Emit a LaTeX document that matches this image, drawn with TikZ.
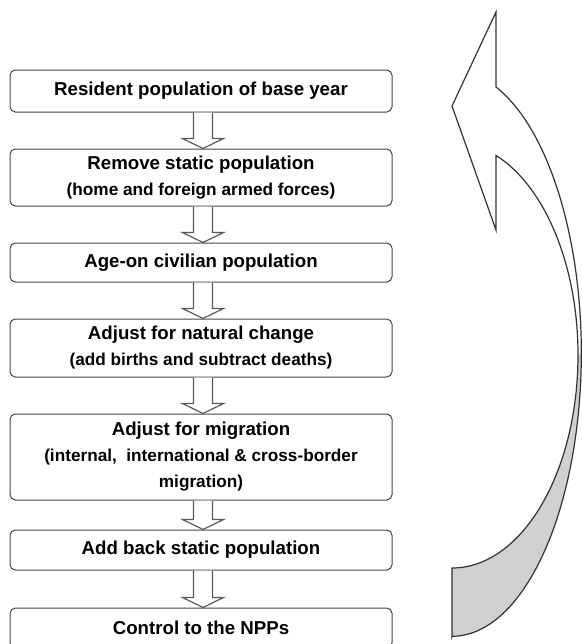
\documentclass[tikz,border=0pt]{standalone}
\usepackage{fontspec}
\setmainfont{Liberation Sans}
\usetikzlibrary{calc}

\tikzset{every picture/.style={line width=0.75pt}}
\tikzset{
  stepbox/.style={draw={rgb, 255:red, 70; green, 70; blue, 70 }, fill=white, rounded corners=4pt, minimum width=286.5pt, inner sep=0pt, align=center, font=\bfseries\fontsize{14}{19.5}\selectfont},
  blockarr/.style={draw={rgb, 255:red, 90; green, 90; blue, 90 }, fill=white, line width=0.9pt},
  bigarr/.style={draw={rgb, 255:red, 50; green, 50; blue, 50 }, line width=0.9pt},
}
\newcommand{\notefont}{\fontsize{12.9}{18}\selectfont}
\newcommand{\downarr}[2]{%
\draw[blockarr] ($(#1.south)+(-7.5,0)$) -- ($(#2.north)+(-7.5,-10)$) -- ($(#2.north)+(-18.5,-10)$) -- ($(#2.north)+(2,0)$) -- ($(#2.north)+(22.5,-10)$) -- ($(#2.north)+(11.5,-10)$) -- ($(#1.south)+(11.5,0)$) ;}

\begin{document}
\begin{tikzpicture}[x=0.75pt,y=0.75pt,yscale=-1,xscale=1]
\useasboundingbox (0,0) rectangle (582,644); %set diagram size 582 x 644

\node[stepbox, minimum height=31.5pt] (resid) at (201,91) {Resident population of base year};
\node[stepbox, minimum height=42.75pt] (static) at (201,177.5) {Remove static population\\{\notefont(home and foreign armed forces)}};
\node[stepbox, minimum height=29.25pt] (ageon) at (201,262.5) {Age-on civilian population};
\node[stepbox, minimum height=43.5pt] (natural) at (201,348) {Adjust for natural change\\{\notefont(add births and subtract deaths)}};
\node[stepbox, minimum height=64.5pt] (migr) at (201,457) {Adjust for migration\\{\notefont(internal,\ \ international \& cross-border}\\{\notefont migration)}};
\node[stepbox, minimum height=30pt] (addback) at (201,550) {Add back static population};
\node[stepbox, minimum height=30pt] (npp) at (201,628) {Control to the NPPs};

\downarr{resid}{static}
\downarr{static}{ageon}
\downarr{ageon}{natural}
\downarr{natural}{migr}
\downarr{migr}{addback}
\downarr{addback}{npp}

% curved return arrow
\fill[fill={rgb, 255:red, 208; green, 208; blue, 208 }] (452,637) -- (452,568) arc[start angle=90, end angle=0, x radius=126, y radius=213] -- (581.3,353.3) arc[start angle=0, end angle=90, x radius=129, y radius=283] -- cycle ;
\draw[bigarr] (452,637) -- (452,568) arc[start angle=90, end angle=-69.6, x radius=126, y radius=213] -- (496,230) -- (452,106) -- (496,12) -- (496,87) arc[start angle=-70.2, end angle=90, x radius=129, y radius=283] -- cycle ;

\end{tikzpicture}
\end{document}
